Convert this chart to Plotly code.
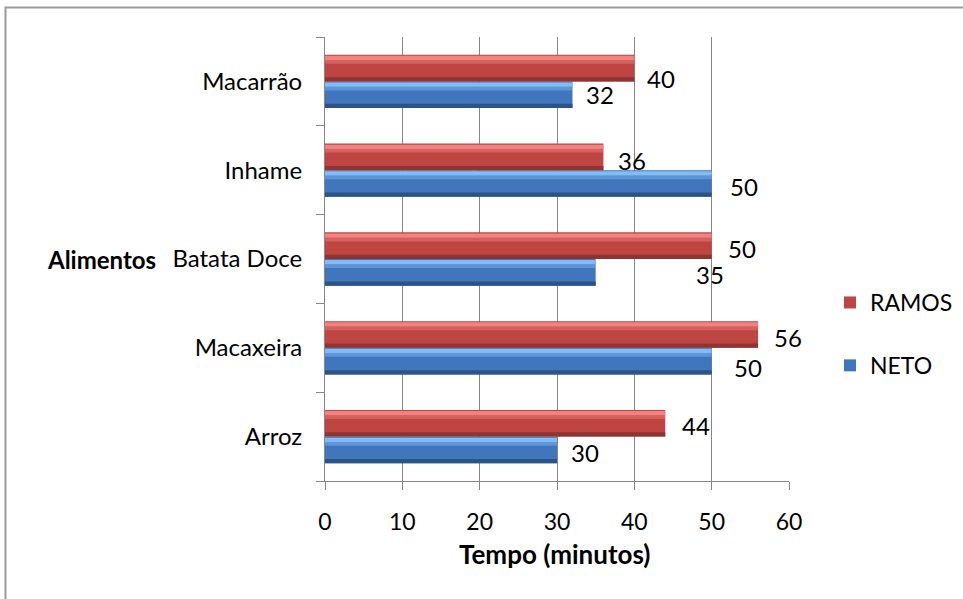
import plotly.graph_objects as go

# ---- data ----
categories = ["Arroz", "Macaxeira", "Batata Doce", "Inhame", "Macarrão"]
ramos = [44, 56, 50, 36, 40]
neto = [30, 50, 35, 50, 32]
x_ticks = [0, 10, 20, 30, 40, 50, 60]

# ---- label placement (style, pixels) ----
ramos_dx = [31, 30, 30, 29, 27]
ramos_dy = [11.6, 10.8, 11, 10.2, 2.9]
neto_dx = [28, 36, 114, 32, 28]
neto_dy = [-15.4, -19.2, -15, -15.8, -12.6]

FONT = "Lato, Carlito, Calibri, sans-serif"
W = 0.3  # bar thickness in category units

fig = go.Figure()

def add_series(name, vals, off, base, light, dark, group, rank):
    fig.add_trace(go.Bar(
        y=categories, x=vals, orientation="h", name=name,
        width=W, offset=off, marker=dict(color=base, line=dict(width=0)),
        legendgroup=group, legendrank=rank, hoverinfo="skip"))
    # top highlight
    fig.add_trace(go.Bar(
        y=categories, x=vals, orientation="h", showlegend=False,
        width=W * 0.16, offset=off + W * 0.80, marker=dict(color=light, line=dict(width=0)),
        legendgroup=group, hoverinfo="skip"))
    fig.add_trace(go.Bar(
        y=categories, x=vals, orientation="h", showlegend=False,
        width=W * 0.14, offset=off + W * 0.66, marker=dict(color=light, opacity=0.45, line=dict(width=0)),
        legendgroup=group, hoverinfo="skip"))
    # bottom shade
    fig.add_trace(go.Bar(
        y=categories, x=vals, orientation="h", showlegend=False,
        width=W * 0.16, offset=off, marker=dict(color=dark, line=dict(width=0)),
        legendgroup=group, hoverinfo="skip"))

add_series("NETO", neto, -W, "#4076BC", "#80BDF8", "#2D5383", "g2", 2)
add_series("RAMOS", ramos, 0.0, "#BE4542", "#F28280", "#8E3533", "g1", 1)

annotations = []
for cat, v, dx, dy in zip(categories, ramos, ramos_dx, ramos_dy):
    annotations.append(dict(x=v, y=cat, text=str(v), showarrow=False,
                            xshift=dx, yshift=dy, xanchor="center", yanchor="middle",
                            font=dict(family=FONT, size=24, color="#000")))
for cat, v, dx, dy in zip(categories, neto, neto_dx, neto_dy):
    annotations.append(dict(x=v, y=cat, text=str(v), showarrow=False,
                            xshift=dx, yshift=dy, xanchor="center", yanchor="middle",
                            font=dict(family=FONT, size=24, color="#000")))

L, R, T, B = 325, 789, 37, 481
PW, PH = R - L, B - T

# axis titles
annotations.append(dict(xref="paper", yref="y", x=(101 - L) / PW, y="Batata Doce", text="<b>Alimentos</b>",
                        showarrow=False, xanchor="center", yanchor="middle",
                        font=dict(family=FONT, size=24, color="#000")))
annotations.append(dict(xref="paper", yref="paper", x=(554 - L) / PW, y=(B - 554) / PH,
                        text="<b>Tempo (minutos)</b>",
                        showarrow=False, xanchor="center", yanchor="middle",
                        font=dict(family=FONT, size=26, color="#000")))

fig.update_layout(
    width=963, height=599,
    margin=dict(l=L, r=963 - R, t=T, b=599 - B, pad=0, autoexpand=False),
    paper_bgcolor="white", plot_bgcolor="white",
    barmode="overlay",
    font=dict(family=FONT, size=24, color="#000"),
    showlegend=True,
    legend=dict(x=(830 - L) / PW, y=(B - 334) / PH, xanchor="left", yanchor="middle",
                traceorder="grouped", tracegroupgap=30,
                font=dict(family=FONT, size=23, color="#000"),
                itemwidth=30, bgcolor="rgba(0,0,0,0)"),
    xaxis=dict(range=[0, 60], tickmode="array", tickvals=x_ticks, ticktext=[str(t) for t in x_ticks],
               showgrid=True, gridcolor="#868686", gridwidth=1,
               showline=True, linecolor="#868686", linewidth=1,
               ticks="outside", ticklen=8, tickcolor="#868686",
               zeroline=False, tickfont=dict(family=FONT, size=23, color="#000"),
               ticklabelstandoff=12, fixedrange=True),
    yaxis=dict(type="category", categoryorder="array", categoryarray=categories,
               showgrid=False, showline=True, linecolor="#868686", linewidth=1,
               ticks="outside", ticklen=8, tickcolor="#868686", tickson="boundaries",
               tickfont=dict(family=FONT, size=24, color="#000"),
               ticklabelstandoff=17, fixedrange=True),
    annotations=annotations,
    shapes=[dict(type="rect", xref="paper", yref="paper",
                 x0=(5.5 - L) / PW, x1=(1010 - L) / PW,
                 y0=(B - 650) / PH, y1=(B - 7.5) / PH,
                 line=dict(color="#9A9A9A", width=2), fillcolor="rgba(0,0,0,0)", layer="below")],
)

fig.write_html("out.html", config={"displayModeBar": False},
               post_script="document.body.style.margin='0';document.body.style.overflow='hidden';")
